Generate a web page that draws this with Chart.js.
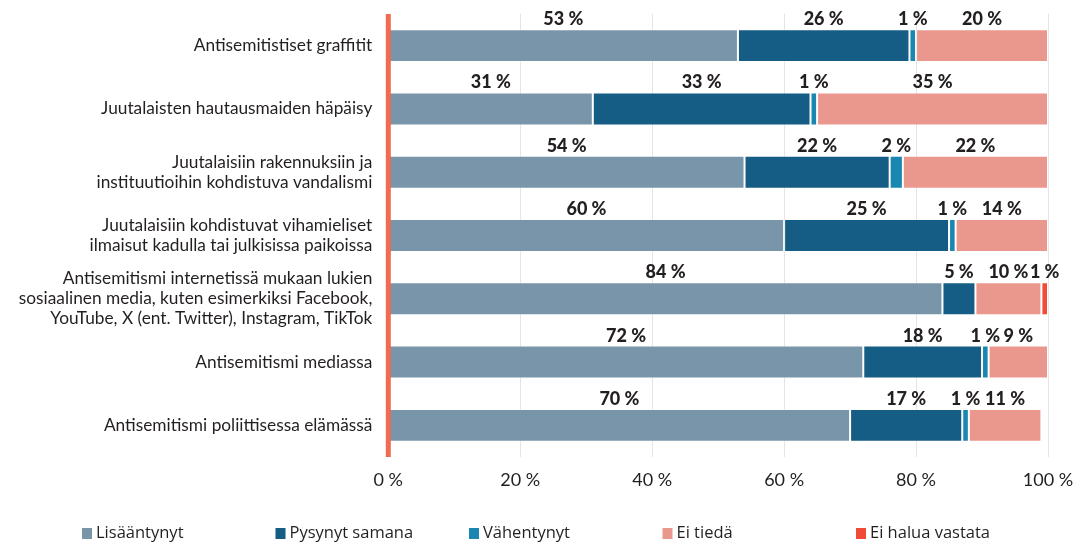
<!DOCTYPE html>
<html><head><meta charset="utf-8">
<script src="https://cdn.jsdelivr.net/npm/chart.js@4"></script>
<style>html,body{margin:0;padding:0;background:#fff;}canvas{display:block;}</style>
</head><body>
<div style="width:1084px;height:544px;position:relative"><canvas id="c" width="1084" height="544"></canvas></div>
<script>
const categories = [
  ["Antisemitistiset graffitit"],
  ["Juutalaisten hautausmaiden häpäisy"],
  ["Juutalaisiin rakennuksiin ja", "instituutioihin kohdistuva vandalismi"],
  ["Juutalaisiin kohdistuvat vihamieliset", "ilmaisut kadulla tai julkisissa paikoissa"],
  ["Antisemitismi internetissä mukaan lukien", "sosiaalinen media, kuten esimerkiksi Facebook,", "YouTube, X (ent. Twitter), Instagram, TikTok"],
  ["Antisemitismi mediassa"],
  ["Antisemitismi poliittisessa elämässä"]
];
const seriesNames = ["Lisääntynyt", "Pysynyt samana", "Vähentynyt", "Ei tiedä", "Ei halua vastata"];
const lisaantynyt = [53, 31, 54, 60, 84, 72, 70];
const pysynyt = [26, 33, 22, 25, 5, 18, 17];
const vahentynyt = [1, 1, 2, 1, 0, 1, 1];
const eiTieda = [20, 35, 22, 14, 10, 9, 11];
const eiHalua = [0, 0, 0, 0, 1, 0, 0];
const tickValues = [0, 20, 40, 60, 80, 100];
const tickLabels = ["0 %", "20 %", "40 %", "60 %", "80 %", "100 %"];

const colors = ["#7995aa", "#155d84", "#1b86b0", "#ea978e", "#ef4b37"];
const seriesData = [lisaantynyt, pysynyt, vahentynyt, eiTieda, eiHalua];
const TEXT = "#231f20";

const valueLabels = {
  id: 'valueLabels',
  afterDatasetsDraw(chart) {
    const ctx = chart.ctx;
    ctx.save();
    ctx.font = "900 18px Lato";
    ctx.fillStyle = TEXT;
    ctx.textAlign = "center";
    ctx.textBaseline = "alphabetic";
    chart.data.datasets.forEach((ds, di) => {
      const meta = chart.getDatasetMeta(di);
      meta.data.forEach((bar, i) => {
        const v = ds.data[i];
        if (!v) return;
        const p = bar.getProps(['x', 'y', 'base', 'height'], true);
        const cx = (p.x + p.base) / 2;
        const top = p.y - p.height / 2;
        ctx.fillText(v + " %", cx, top - 4);
      });
    });
    const a = chart.chartArea;
    const x0 = chart.scales.x.getPixelForValue(0);
    ctx.fillStyle = "#f26a4f";
    ctx.fillRect(x0 - 2.5, a.top, 5, a.bottom - a.top);
    ctx.restore();
  }
};

const legendPlugin = {
  id: 'fixedLegend',
  afterDraw(chart) {
    const ctx = chart.ctx;
    ctx.save();
    ctx.font = "16.5px 'Open Sans'";
    ctx.textBaseline = "middle";
    ctx.textAlign = "left";
    const startX = 82, step = 193.5, y = 533;
    seriesNames.forEach((name, i) => {
      const x = startX + i * step;
      ctx.fillStyle = colors[i];
      ctx.fillRect(x, y - 5, 10, 11);
      ctx.fillStyle = TEXT;
      ctx.fillText(name, x + 14, y);
    });
    ctx.restore();
  }
};

new Chart(document.getElementById('c'), {
  type: 'bar',
  data: {
    labels: categories,
    datasets: seriesNames.map((n, i) => ({
      label: n,
      data: seriesData[i],
      backgroundColor: colors[i],
      borderColor: "rgba(255,255,255,0.35)",
      borderWidth: 1,
      borderSkipped: false,
      barPercentage: 0.52,
      categoryPercentage: 1
    }))
  },
  options: {
    indexAxis: 'y',
    responsive: false,
    animation: false,
    layout: { padding: { top: 14, right: 36, bottom: 0, left: 0 } },
    plugins: { legend: { display: false }, tooltip: { enabled: false } },
    scales: {
      x: {
        stacked: true,
        min: 0, max: 100,
        afterBuildTicks(scale) { scale.ticks = tickValues.map(v => ({ value: v })); },
        afterFit(scale) { scale.height = 87; scale.paddingLeft = 0; scale.paddingRight = 0; },
        grid: {
          drawTicks: false,
          color: (c) => c.tick && c.tick.value === 0 ? 'rgba(0,0,0,0)' : '#e4e4e4',
          lineWidth: 1
        },
        border: { display: false },
        ticks: {
          padding: 12,
          color: TEXT,
          font: { family: 'Lato', size: 18 },
          callback: (v) => tickLabels[tickValues.indexOf(v)]
        }
      },
      y: {
        stacked: true,
        afterFit(scale) { scale.width = 388.3; scale.paddingTop = 0; scale.paddingBottom = 0; },
        grid: { display: false, drawTicks: false },
        border: { display: false },
        ticks: {
          padding: 16,
          color: TEXT,
          font: { family: 'Lato', size: 17.3, lineHeight: 1.16 }
        }
      }
    }
  },
  plugins: [valueLabels, legendPlugin]
});
</script>
</body></html>
